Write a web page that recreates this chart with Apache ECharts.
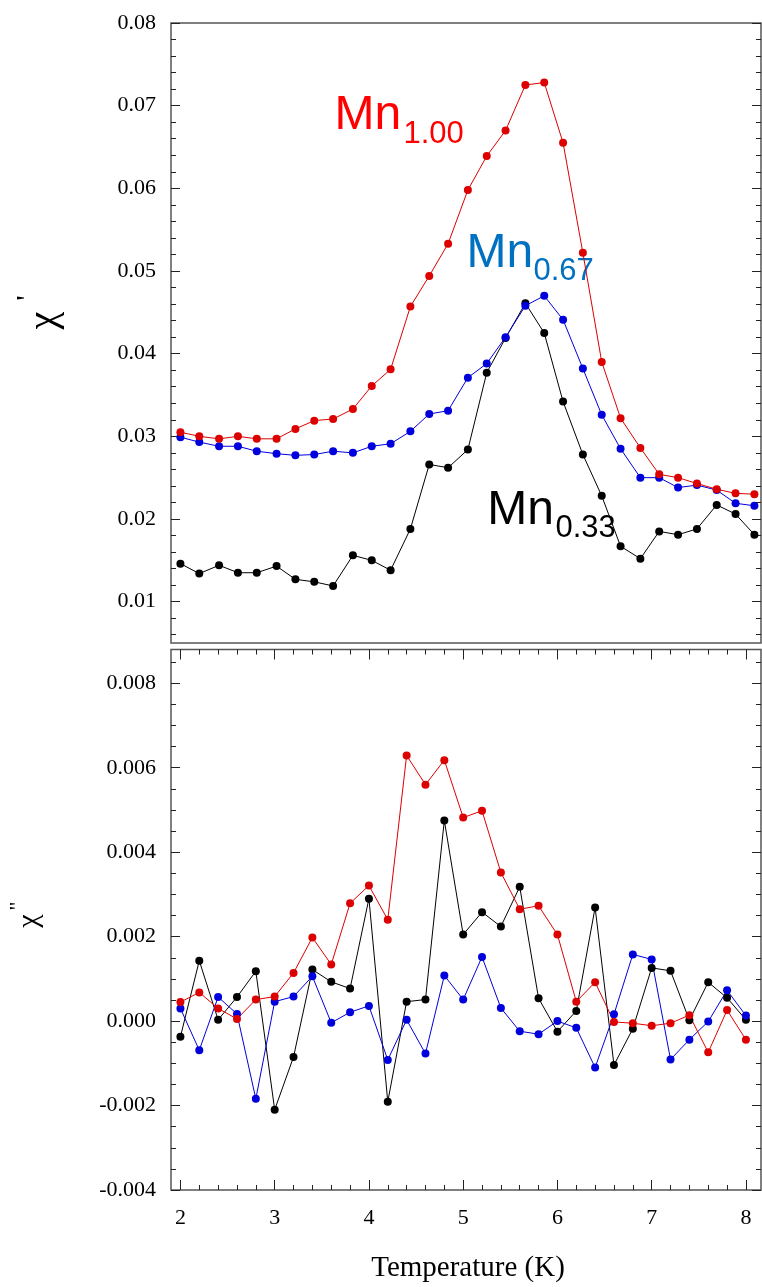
<!DOCTYPE html>
<html><head><meta charset="utf-8">
<script src="https://cdn.jsdelivr.net/npm/echarts@6/dist/echarts.min.js"></script>
<style>html,body{margin:0;padding:0;background:#fff}#c{width:762px;height:1287px}</style>
</head><body><div id="c"></div>
<script>
// ---- data ----
const tempTop = [2.00, 2.20, 2.41, 2.61, 2.81, 3.02, 3.22, 3.42, 3.62, 3.83, 4.03, 4.23, 4.44, 4.64, 4.84, 5.05, 5.25, 5.45, 5.66, 5.86, 6.06, 6.27, 6.47, 6.67, 6.88, 7.08, 7.28, 7.48, 7.69, 7.89, 8.09];
const tempBottom = [2.0, 2.2, 2.4, 2.6, 2.8, 3.0, 3.2, 3.4, 3.6, 3.8, 4.0, 4.2, 4.4, 4.6, 4.8, 5.0, 5.2, 5.4, 5.6, 5.8, 6.0, 6.2, 6.4, 6.6, 6.8, 7.0, 7.2, 7.4, 7.6, 7.8, 8.0];

const chiRealMn100 = [0.0305, 0.0300, 0.0297, 0.0300, 0.0297, 0.0297, 0.0309, 0.0319, 0.0321, 0.0333, 0.0361, 0.0381, 0.0457, 0.0494, 0.0533, 0.0598, 0.0639, 0.0670, 0.0725, 0.0728, 0.0655, 0.0522, 0.0390, 0.0322, 0.0286, 0.0254, 0.0250, 0.0243, 0.0236, 0.0231, 0.0230];
const chiRealMn067 = [0.0299, 0.0293, 0.0288, 0.0288, 0.0282, 0.0279, 0.0277, 0.0278, 0.0282, 0.0280, 0.0288, 0.0291, 0.0306, 0.0327, 0.0331, 0.0371, 0.0388, 0.0420, 0.0458, 0.0470, 0.0441, 0.0382, 0.0326, 0.0285, 0.0250, 0.0250, 0.0238, 0.0241, 0.0235, 0.0219, 0.0216];
const chiRealMn033 = [0.0146, 0.0134, 0.0144, 0.0135, 0.0135, 0.0143, 0.0127, 0.0124, 0.0119, 0.0156, 0.0150, 0.0138, 0.0188, 0.0266, 0.0262, 0.0284, 0.0377, 0.0419, 0.0461, 0.0425, 0.0342, 0.0278, 0.0228, 0.0167, 0.0152, 0.0185, 0.0181, 0.0188, 0.0217, 0.0206, 0.0181];

const chiImagMn100 = [0.00045, 0.00068, 0.00030, 0.00005, 0.00051, 0.00058, 0.00114, 0.00198, 0.00134, 0.00279, 0.00321, 0.00240, 0.00629, 0.00560, 0.00618, 0.00482, 0.00498, 0.00352, 0.00265, 0.00273, 0.00205, 0.00046, 0.00092, -0.00002, -0.00005, -0.00011, -0.00005, 0.00014, -0.00074, 0.00026, -0.00044];
const chiImagMn067 = [0.00030, -0.00069, 0.00057, 0.00017, -0.00184, 0.00046, 0.00058, 0.00106, -0.00004, 0.00021, 0.00036, -0.00092, 0.00003, -0.00077, 0.00108, 0.00051, 0.00152, 0.00031, -0.00024, -0.00031, 0.00000, -0.00016, -0.00110, 0.00016, 0.00158, 0.00146, -0.00091, -0.00044, -0.00001, 0.00073, 0.00013];
const chiImagMn033 = [-0.00037, 0.00143, 0.00003, 0.00057, 0.00118, -0.00210, -0.00085, 0.00122, 0.00093, 0.00077, 0.00290, -0.00191, 0.00046, 0.00051, 0.00475, 0.00205, 0.00258, 0.00224, 0.00318, 0.00054, -0.00025, 0.00024, 0.00269, -0.00104, -0.00018, 0.00126, 0.00119, 0.00002, 0.00092, 0.00055, 0.00003];

// tick labels
const xTickLabels = [2, 3, 4, 5, 6, 7, 8];
const yTopTickLabels = [0.01, 0.02, 0.03, 0.04, 0.05, 0.06, 0.07, 0.08];
const yBottomTickLabels = [-0.004, -0.002, 0.000, 0.002, 0.004, 0.006, 0.008];

// ---- minor tick positions ----
function minors(start, end, step, majors) {
  const out = [];
  const n = Math.round((end - start) / step);
  for (let i = 0; i <= n; i++) {
    const v = Math.round((start + i * step) * 1e6) / 1e6;
    if (!majors.some(m => Math.abs(m - v) < step / 10)) out.push(v);
  }
  return out;
}
const xMinor = minors(2.0, 8.0, 0.2, xTickLabels);
const yTopMinor = minors(0.006, 0.078, 0.002, yTopTickLabels);
const yBottomMinor = minors(-0.0035, 0.0085, 0.0005, yBottomTickLabels);

const SERIF = "'Liberation Serif','Times New Roman',Times,serif";
const SANS = "'Liberation Sans',Arial,Helvetica,sans-serif";
const TICK_COLOR = '#222';
const X_MIN = 1.9, X_MAX = 8.16;

function pairs(xs, ys) { return ys.map((v, i) => [xs[i], v]); }

function yAx(grid, min, max, pos, ticks, len, labels, fmt) {
  return {
    type: 'value', gridIndex: grid, position: pos, min: min, max: max,
    axisLine: { show: false, onZero: false }, splitLine: { show: false },
    axisTick: { show: true, inside: true, length: len, customValues: ticks,
      lineStyle: { color: TICK_COLOR, width: 1 } },
    axisLabel: labels ? { show: true, customValues: labels, formatter: fmt,
      fontFamily: SERIF, fontSize: 22, color: '#000', margin: 15 } : { show: false }
  };
}
function xAx(grid, pos, ticks, len, labels) {
  return {
    type: 'value', gridIndex: grid, position: pos, min: X_MIN, max: X_MAX,
    axisLine: { show: false, onZero: false }, splitLine: { show: false },
    axisTick: ticks ? { show: true, inside: true, length: len, customValues: ticks,
      lineStyle: { color: TICK_COLOR, width: 1 } } : { show: false },
    axisLabel: labels ? { show: true, customValues: labels, formatter: v => String(Math.round(v)),
      fontFamily: SERIF, fontSize: 22, color: '#000', margin: 17 } : { show: false }
  };
}

const fmtTop = v => v.toFixed(2);
const fmtBot = v => v.toFixed(3);

function line(name, x, y, color, xi, yi) {
  return {
    name: name, type: 'line', xAxisIndex: xi, yAxisIndex: yi,
    data: pairs(x, y), symbol: 'circle', symbolSize: 8, showSymbol: true,
    itemStyle: { color: color }, lineStyle: { color: color, width: 1 },
    animation: false, emphasis: { disabled: true }
  };
}

const chart = echarts.init(document.getElementById('c'), null, { renderer: 'canvas' });
chart.setOption({
  animation: false,
  backgroundColor: '#fff',
  grid: [
    { left: 171, top: 23, width: 590, height: 620, show: true, borderColor: '#555', borderWidth: 1.5, backgroundColor: 'transparent' },
    { left: 171, top: 649.5, width: 590, height: 540.5, show: true, borderColor: '#555', borderWidth: 1.5, backgroundColor: 'transparent' }
  ],
  xAxis: [
    xAx(0, 'bottom', null, 0, null),
    xAx(1, 'bottom', xTickLabels, 10, xTickLabels),
    xAx(1, 'bottom', xMinor, 5, null),
    xAx(1, 'top', xTickLabels, 10, null),
    xAx(1, 'top', xMinor, 5, null)
  ],
  yAxis: [
    yAx(0, 0.005, 0.08, 'left', yTopTickLabels, 9, yTopTickLabels, fmtTop),
    yAx(0, 0.005, 0.08, 'left', yTopMinor, 5, null),
    yAx(0, 0.005, 0.08, 'right', yTopTickLabels, 9, null),
    yAx(0, 0.005, 0.08, 'right', yTopMinor, 5, null),
    yAx(1, -0.004, 0.0088, 'left', yBottomTickLabels, 9, yBottomTickLabels, fmtBot),
    yAx(1, -0.004, 0.0088, 'left', yBottomMinor, 5, null),
    yAx(1, -0.004, 0.0088, 'right', yBottomTickLabels, 9, null),
    yAx(1, -0.004, 0.0088, 'right', yBottomMinor, 5, null)
  ],
  series: [
    line('Mn0.33', tempTop, chiRealMn033, '#000000', 0, 0),
    line('Mn0.67', tempTop, chiRealMn067, '#0000dd', 0, 0),
    line('Mn1.00', tempTop, chiRealMn100, '#dd0000', 0, 0),
    line('Mn0.33', tempBottom, chiImagMn033, '#000000', 1, 4),
    line('Mn0.67', tempBottom, chiImagMn067, '#0000dd', 1, 4),
    line('Mn1.00', tempBottom, chiImagMn100, '#dd0000', 1, 4)
  ],
  graphic: [
    { type: 'text', x: 334.5, y: 116, style: { text: 'Mn', fontFamily: SANS, fontSize: 48, fill: '#ff0000', align: 'left', verticalAlign: 'middle' } },
    { type: 'text', x: 403.5, y: 134, style: { text: '1.00', fontFamily: SANS, fontSize: 31, fill: '#ff0000', align: 'left', verticalAlign: 'middle' } },
    { type: 'text', x: 466.5, y: 254, style: { text: 'Mn', fontFamily: SANS, fontSize: 48, fill: '#0070c0', align: 'left', verticalAlign: 'middle' } },
    { type: 'text', x: 533.5, y: 271, style: { text: '0.67', fontFamily: SANS, fontSize: 31, fill: '#0070c0', align: 'left', verticalAlign: 'middle' } },
    { type: 'text', x: 487.2, y: 510.3, style: { text: 'Mn', fontFamily: SANS, fontSize: 48, fill: '#000', align: 'left', verticalAlign: 'middle' } },
    { type: 'text', x: 555.5, y: 528.3, style: { text: '0.33', fontFamily: SANS, fontSize: 31, fill: '#000', align: 'left', verticalAlign: 'middle' } },
    { type: 'text', x: 468, y: 1268, style: { text: 'Temperature (K)', fontFamily: SERIF, fontSize: 29, fill: '#000', align: 'center', verticalAlign: 'middle' } },
    { type: 'text', x: 44.6, y: 320.5, rotation: Math.PI / 2, style: { text: 'χ', fontFamily: SERIF, fontSize: 40, fill: '#000', align: 'center', verticalAlign: 'middle' } },
    { type: 'text', x: 28, y: 298, rotation: Math.PI / 2, style: { text: "'", fontFamily: SERIF, fontSize: 30, fill: '#000', align: 'center', verticalAlign: 'middle' } },
    { type: 'text', x: 29.4, y: 921, rotation: Math.PI / 2, style: { text: 'χ', fontFamily: SERIF, fontSize: 30, fill: '#000', align: 'center', verticalAlign: 'middle' } },
    { type: 'text', x: 18.7, y: 906, rotation: Math.PI / 2, style: { text: '"', fontFamily: SERIF, fontSize: 22, fill: '#000', align: 'center', verticalAlign: 'middle' } }
  ]
});
</script>
</body></html>
